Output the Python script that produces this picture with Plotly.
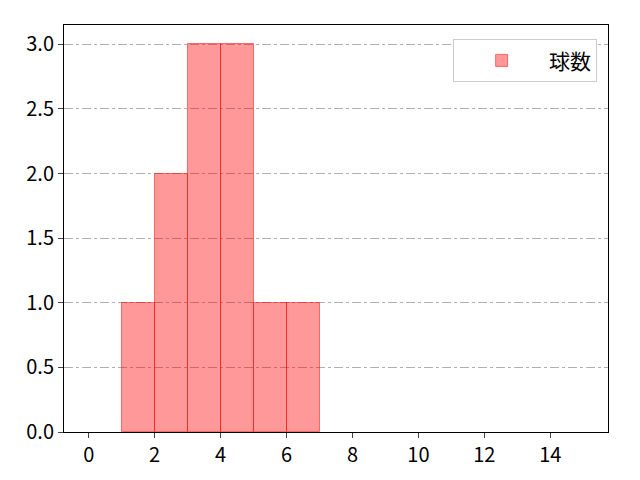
import plotly.graph_objects as go

# histogram bins and counts
bin_left = [1, 2, 3, 4, 5, 6]
counts = [1, 2, 3, 3, 1, 1]
bin_width = 1
series_name = "球数"

x_ticks = [0, 2, 4, 6, 8, 10, 12, 14]
y_ticks = [0.0, 0.5, 1.0, 1.5, 2.0, 2.5, 3.0]

centers = [b + bin_width / 2 for b in bin_left]

fig = go.Figure(go.Bar(
    x=centers,
    y=counts,
    width=bin_width,
    name=series_name,
    marker=dict(color="rgba(255,0,0,0.4)",
                line=dict(color="rgba(255,0,0,0.5)", width=1)),
    showlegend=True))

font = "Noto Sans CJK JP"

# page body adds an 8px offset, margins compensate for it
fig.update_layout(
    width=640, height=480,
    margin=dict(l=56, r=40, t=17, b=56),
    plot_bgcolor="white", paper_bgcolor="white",
    font=dict(family=font, size=20, color="black"),
    bargap=0,
    legend=dict(x=0.98, y=0.965, xanchor="right", yanchor="top",
                bgcolor="white", bordercolor="#cccccc", borderwidth=1,
                itemwidth=85, font=dict(size=21)),
    xaxis=dict(range=[-0.75, 15.75], tickvals=x_ticks, ticks="outside",
               ticklen=5, showgrid=False, zeroline=False,
               showline=True, linecolor="black", mirror=True),
    yaxis=dict(range=[0, 3.15], tickvals=y_ticks, tickformat=".1f",
               ticks="outside", ticklen=5, showgrid=True,
               gridcolor="#b0b0b0", griddash="dashdot", gridwidth=1,
               zeroline=False, showline=True, linecolor="black", mirror=True))

fig.write_html("out.html")
